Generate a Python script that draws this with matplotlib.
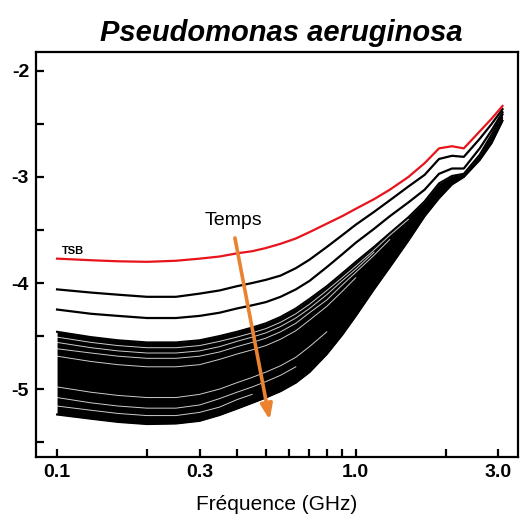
import numpy as np
import matplotlib
matplotlib.use("Agg")
import matplotlib.pyplot as plt
from matplotlib.ticker import FixedLocator, NullFormatter

# frequencies (GHz) at which the curves were read
freq = [0.1, 0.13, 0.16, 0.2, 0.25, 0.3, 0.35, 0.4, 0.45, 0.5, 0.56, 0.63, 0.7,
        0.8, 0.9, 1.0, 1.15, 1.3, 1.5, 1.7, 1.9, 2.1, 2.3, 2.6, 2.85, 3.1]

tsb = [-3.77, -3.785, -3.795, -3.80, -3.79, -3.77, -3.75, -3.72, -3.70, -3.67, -3.63, -3.58, -3.52,
       -3.44, -3.37, -3.30, -3.21, -3.12, -3.00, -2.87, -2.73, -2.71, -2.73, -2.57, -2.45, -2.33]
black_1 = [-4.06, -4.09, -4.11, -4.13, -4.13, -4.10, -4.07, -4.03, -4.00, -3.97, -3.93, -3.86, -3.78,
           -3.66, -3.55, -3.45, -3.33, -3.22, -3.09, -2.98, -2.83, -2.80, -2.81, -2.64, -2.50, -2.36]
black_2 = [-4.25, -4.29, -4.31, -4.33, -4.33, -4.31, -4.28, -4.24, -4.21, -4.18, -4.13, -4.06, -3.98,
           -3.85, -3.73, -3.62, -3.49, -3.37, -3.24, -3.12, -2.97, -2.92, -2.92, -2.73, -2.56, -2.39]

# dense band of the later curves
band_top = [-4.46, -4.51, -4.54, -4.56, -4.56, -4.54, -4.50, -4.46, -4.42, -4.38, -4.32, -4.24, -4.15,
            -4.03, -3.91, -3.80, -3.66, -3.53, -3.38, -3.23, -3.06, -2.99, -2.97, -2.79, -2.60, -2.41]
band_bottom = [-5.24, -5.28, -5.31, -5.33, -5.325, -5.30, -5.245, -5.185, -5.13, -5.08, -5.02, -4.94, -4.84,
               -4.67, -4.49, -4.31, -4.06, -3.85, -3.60, -3.37, -3.20, -3.07, -3.00, -2.84, -2.68, -2.47]

nan = np.nan
# thin white gaps seen between curves inside the band
band_gaps = [
    [-4.51, -4.56, -4.59, -4.61, -4.61, -4.59, -4.55, -4.51, -4.47, -4.43, -4.37, -4.29, -4.20,
     -4.07, -3.95, -3.84, -3.69, -3.55, -3.40, nan, nan, nan, nan, nan, nan, nan],
    [-4.56, -4.61, -4.64, -4.66, -4.66, -4.64, -4.60, -4.55, -4.51, -4.47, -4.41, -4.33, -4.24,
     -4.11, -3.98, -3.87, -3.71, nan, nan, nan, nan, nan, nan, nan, nan, nan],
    [-4.62, -4.66, -4.69, -4.71, -4.71, -4.69, -4.65, -4.60, -4.56, -4.52, -4.46, -4.38, -4.28,
     -4.16, -4.02, -3.90, -3.74, -3.59, nan, nan, nan, nan, nan, nan, nan, nan],
    [-4.69, -4.74, -4.77, -4.79, -4.79, -4.77, -4.72, -4.67, -4.63, -4.59, -4.53, -4.45, -4.35,
     -4.22, -4.08, -3.95, nan, nan, nan, nan, nan, nan, nan, nan, nan, nan],
    [-4.98, -5.03, -5.06, -5.08, -5.08, -5.05, -5.00, -4.94, -4.89, -4.84, -4.78, -4.70, -4.60,
     -4.46, nan, nan, nan, nan, nan, nan, nan, nan, nan, nan, nan, nan],
    [-5.08, -5.13, -5.16, -5.18, -5.18, -5.15, -5.09, -5.03, -4.98, -4.93, -4.87, -4.79, nan,
     nan, nan, nan, nan, nan, nan, nan, nan, nan, nan, nan, nan, nan],
    [-5.16, -5.20, -5.23, -5.25, -5.25, -5.22, -5.17, -5.10, -5.05, nan, nan, nan, nan,
     nan, nan, nan, nan, nan, nan, nan, nan, nan, nan, nan, nan, nan],
]

x_major = [0.1, 0.3, 1.0, 3.0]
x_labels = ["0.1", "0.3", "1.0", "3.0"]
x_minor = [0.2, 0.4, 0.5, 0.6, 0.7, 0.8, 0.9, 2.0]
y_major = [-2, -3, -4, -5]
y_minor = [-2.5, -3.5, -4.5, -5.5]

plt.rcParams["font.family"] = ["Liberation Sans", "DejaVu Sans"]

fig = plt.figure(figsize=(5.29, 5.24), dpi=100)
ax = fig.add_axes([0.068, 0.128, 0.911, 0.773])

ax.fill_between(freq, band_top, band_bottom, color="black", lw=0)
ax.plot(freq, band_top, color="black", lw=1.5)
ax.plot(freq, band_bottom, color="black", lw=1.5)
for g in band_gaps:
    ax.plot(freq, g, color="white", lw=0.7, alpha=0.8)
ax.plot(freq, black_2, color="black", lw=1.6)
ax.plot(freq, black_1, color="black", lw=1.6)
ax.plot(freq, tsb, color="#e8141c", lw=1.6)

ax.text(0.1035, -3.745, "TSB", fontsize=8, fontweight="bold", ha="left", va="bottom")

ax.annotate("", xy=(0.515, -5.29), xytext=(0.394, -3.575),
            arrowprops=dict(arrowstyle="-|>,head_width=0.35,head_length=0.9",
                            color="#ea8230", lw=2.6, shrinkA=0, shrinkB=0))
ax.text(0.39, -3.41, "Temps", fontsize=14, ha="center", va="center")

ax.set_xscale("log")
ax.set_xlim(0.085, 3.49)
ax.set_ylim(-5.64, -1.82)

ax.xaxis.set_major_locator(FixedLocator(x_major))
ax.set_xticklabels(x_labels)
ax.xaxis.set_minor_locator(FixedLocator(x_minor))
ax.xaxis.set_minor_formatter(NullFormatter())
ax.yaxis.set_major_locator(FixedLocator(y_major))
ax.set_yticklabels([str(v) for v in y_major])
ax.yaxis.set_minor_locator(FixedLocator(y_minor))

ax.tick_params(which="both", direction="in", length=6, width=1.6, top=False, right=False)
ax.tick_params(which="major", labelsize=14, pad=5)
for lab in ax.get_xticklabels() + ax.get_yticklabels():
    lab.set_fontweight("bold")
for sp in ax.spines.values():
    sp.set_linewidth(1.6)

ax.set_xlabel("Fréquence (GHz)", fontsize=15, labelpad=10)
fig.text(0.532, 0.921, "Pseudomonas aeruginosa", fontsize=21, fontweight="bold",
         fontstyle="italic", ha="center", va="baseline")

fig.savefig("out.png", dpi=100)
